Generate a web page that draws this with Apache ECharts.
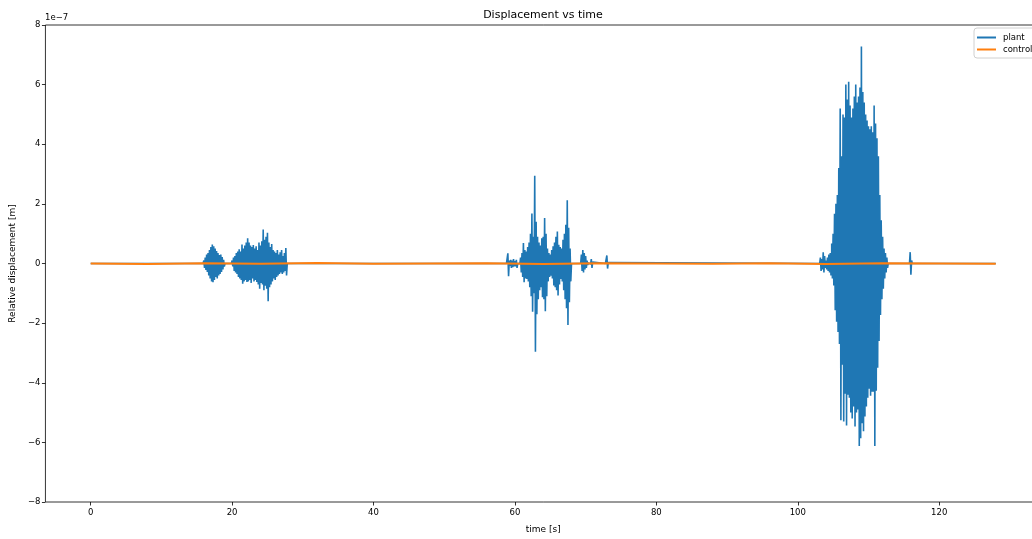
<!DOCTYPE html>
<html>
<head>
<meta charset="utf-8">
<title>Displacement vs time</title>
<script src="https://cdn.jsdelivr.net/npm/echarts@6/dist/echarts.min.js"></script>
<style>
  html, body { margin: 0; padding: 0; background: #fff; width: 1032px; height: 539px; overflow: hidden; }
  /* canvas runs a little past the window edge so the right spine falls off-screen */
  #chart { width: 1050px; height: 539px; }
</style>
</head>
<body>
<div id="chart"></div>
<script>
// Axis ticks
const xTicks = [0, 20, 40, 60, 80, 100, 120];
const yTicks = [-8, -6, -4, -2, 0, 2, 4, 6, 8];

// Recording span [s]
const recordStart = 0;
const recordEnd = 128;

// Plant displacement, in units of 1e-7 m.
// Each burst: start time [s] and samples spaced by sampleStep.
const sampleStep = 0.1;

const burstA_t0 = 16.0;
const burstA = [0.1, -0.15, 0.2, -0.22, 0.3, -0.28, 0.35, -0.4, 0.45, -0.5,
  0.55, -0.6, 0.64, -0.63, 0.58, -0.55, 0.5, -0.45, 0.42, -0.5,
  0.35, -0.4, 0.28, -0.35, 0.3, -0.28, 0.22, -0.2, 0.12, -0.1];

const burstB_t0 = 20.0;
const burstB = [0.1, -0.1, 0.2, -0.25, 0.25, -0.3, 0.35, -0.35, 0.4, -0.45,
  0.48, -0.5, 0.4, -0.55, 0.64, -0.68, 0.5, -0.6, 0.6, -0.55,
  0.7, -0.62, 0.85, -0.6, 0.7, -0.55, 0.6, -0.65, 0.55, -0.5,
  0.62, -0.6, 0.5, -0.55, 0.58, -0.62, 0.45, -0.7, 0.7, -0.85,
  0.6, -0.65, 0.75, -0.7, 1.14, -0.9, 0.8, -0.75, 0.9, -0.85,
  1.03, -1.27, 0.7, -0.8, 0.55, -0.7, 0.65, -0.6, 0.45, -0.5,
  0.4, -0.55, 0.35, -0.45, 0.45, -0.4, 0.3, -0.35, 0.38, -0.3,
  0.45, -0.35, 0.25, -0.3, 0.35, -0.25, 0.52, -0.4];

const spikeC1_t0 = 58.9;
const spikeC1 = [0.05, 0.34, -0.43, 0.1, -0.08, 0.12, -0.15, 0.1, -0.12, 0.15,
  -0.1, 0.08, -0.1, 0.12, -0.15];

const burstC_t0 = 60.8;
const burstC = [0.2, -0.3, 0.35, -0.45, 0.69, -0.63, 0.45, -0.5, 0.4, -0.52,
  0.55, -0.6, 0.7, -0.8, 1.0, -1.1, 1.68, -1.62, 0.9, -1.0,
  2.94, -2.96, 1.4, -1.7, 0.9, -1.2, 0.7, -0.9, 0.6, -0.8,
  0.85, -1.13, 0.9, -1.2, 1.53, -1.6, 1.0, -1.1, 0.5, -0.6,
  0.35, -0.45, 0.3, -0.41, 0.45, -0.5, 0.58, -0.74, 0.7, -0.8,
  0.9, -0.9, 1.07, -1.07, 0.63, -0.7, 0.55, -0.52, 0.5, -0.6,
  0.8, -0.9, 1.0, -1.2, 1.3, -1.5, 2.12, -2.06, 1.2, -1.3,
  0.5, -0.6];

const tailC_t0 = 69.4;
const tailC = [0.3, -0.25, 0.45, -0.3, 0.35, -0.2, 0.25, -0.15, 0.1, -0.05,
  0.02, -0.02, 0.02, -0.02, 0.15, -0.15, 0.05];

const spikeC2_t0 = 72.9;
const spikeC2 = [0.05, 0.27, -0.17, 0.03];

const leadD_t0 = 103.2;
const leadD = [0.2, -0.25, 0.15, -0.2, 0.38, -0.3, 0.25, -0.15, 0.1, -0.2,
  0.2, -0.25, 0.3, -0.3, 0.35, -0.4];

const burstD_t0 = 104.8;
const burstD = [0.67, -0.5, 1.0, -0.74, 1.67, -1.57, 2.0, -1.95, 2.3, -2.3,
  3.2, -2.7, 5.2, -5.26, 3.6, -3.4, 5.0, -5.3, 4.9, -4.37,
  6.0, -5.43, 5.5, -4.4, 6.1, -4.5, 5.3, -5.0, 4.9, -5.2,
  5.2, -4.8, 5.6, -5.47, 6.0, -5.0, 5.4, -4.9, 5.6, -6.12,
  5.9, -5.86, 7.28, -5.36, 5.75, -5.63, 5.4, -5.13, 5.0, -4.8,
  4.8, -4.5, 4.6, -4.2, 4.5, -4.44, 4.6, -4.3, 4.4, -4.3,
  5.3, -6.12, 4.7, -4.27, 4.2, -3.5, 3.6, -2.6, 2.3, -1.73,
  1.45, -1.2, 0.9, -0.85, 0.5, -0.5, 0.35, -0.3, 0.2, -0.15];

const spikeD_t0 = 115.9;
const spikeD = [0.38, -0.38, 0.1];

// Controller output, in units of 1e-7 m (stays close to zero)
const controlTime = [0, 8, 16, 24, 32, 40, 48, 56, 64, 72, 80, 88, 96, 104, 112, 120, 128];
const controlValue = [0.0, -0.02, 0.01, -0.01, 0.02, -0.01, 0.0, 0.01, -0.02, 0.01, 0.0, -0.01, 0.01, -0.02, 0.01, 0.0, -0.01];

// Assemble the plant trace: quiet (zero) stretches joined by the bursts
function plantTrace() {
  const bursts = [
    [burstA_t0, burstA], [burstB_t0, burstB], [spikeC1_t0, spikeC1],
    [burstC_t0, burstC], [tailC_t0, tailC], [spikeC2_t0, spikeC2],
    [leadD_t0, leadD], [burstD_t0, burstD], [spikeD_t0, spikeD]
  ];
  const pts = [[recordStart, 0]];
  bursts.forEach(([t0, vals]) => {
    pts.push([+(t0 - sampleStep).toFixed(2), 0]);
    vals.forEach((v, i) => pts.push([+(t0 + i * sampleStep).toFixed(2), v]));
    pts.push([+(t0 + vals.length * sampleStep).toFixed(2), 0]);
  });
  pts.push([recordEnd, 0]);
  return pts;
}

const controlData = controlTime.map((t, i) => [t, controlValue[i]]);

const FONT = 'DejaVu Sans';
const minus = v => (v < 0 ? '\u2212' + Math.abs(v) : String(v));

const chart = echarts.init(document.getElementById('chart'), null, { renderer: 'canvas', width: 1050, height: 539 });

chart.setOption({
  animation: false,
  backgroundColor: '#ffffff',
  textStyle: { fontFamily: FONT },
  grid: {
    left: 45, top: 25, width: 996, height: 485,
    show: true, borderColor: '#000', borderWidth: 0.8,
    containLabel: false
  },
  graphic: [
    {
      type: 'text', x: 543, y: 15,
      style: { text: 'Displacement vs time', font: '11px "DejaVu Sans"', fill: '#000',
        align: 'center', verticalAlign: 'middle', textAlign: 'center', textVerticalAlign: 'middle' }
    },
    {
      type: 'text', x: 45, y: 18,
      style: { text: '1e\u22127', font: '8.5px "DejaVu Sans"', fill: '#000',
        verticalAlign: 'middle', textVerticalAlign: 'middle' }
    }
  ],
  legend: {
    orient: 'vertical',
    left: 974, top: 28,
    icon: 'rect',
    itemWidth: 19, itemHeight: 2,
    itemGap: 3,
    padding: [5, 12, 4, 3],
    borderColor: '#d0d0d0', borderWidth: 1, borderRadius: 3,
    backgroundColor: 'rgba(255,255,255,0.8)',
    textStyle: { fontFamily: FONT, fontSize: 8.5, color: '#000', padding: [0, 0, 0, 2] },
    data: ['plant', 'control']
  },
  xAxis: {
    type: 'value',
    min: -6.4, max: 134.4,
    name: 'time [s]',
    nameLocation: 'middle',
    nameGap: 23,
    nameTextStyle: { fontFamily: FONT, fontSize: 9, color: '#000' },
    axisLine: { show: false, onZero: false },
    axisTick: { show: true, length: 3.5, inside: false, customValues: xTicks, lineStyle: { color: '#000', width: 0.8 } },
    axisLabel: { customValues: xTicks, fontFamily: FONT, fontSize: 8.5, color: '#000', margin: 6, formatter: minus },
    splitLine: { show: false }
  },
  yAxis: {
    type: 'value',
    min: -8, max: 8, interval: 2,
    name: 'Relative displacement [m]',
    nameLocation: 'middle',
    nameGap: 24,
    nameRotate: 90,
    nameTextStyle: { fontFamily: FONT, fontSize: 9, color: '#000' },
    axisLine: { show: false, onZero: false },
    axisTick: { show: true, length: 3.5, lineStyle: { color: '#000', width: 0.8 } },
    axisLabel: { fontFamily: FONT, fontSize: 8.5, color: '#000', margin: 5, formatter: minus, showMinLabel: true, showMaxLabel: true },
    splitLine: { show: false }
  },
  series: [
    {
      name: 'plant', type: 'line', data: plantTrace(),
      showSymbol: false, symbol: 'none', sampling: null,
      color: '#1f77b4',
      lineStyle: { color: '#1f77b4', width: 1.6 },
      z: 2
    },
    {
      name: 'control', type: 'line', data: controlData,
      showSymbol: false, symbol: 'none',
      color: '#ff7f0e',
      lineStyle: { color: '#ff7f0e', width: 2 },
      z: 3
    }
  ]
});
</script>
</body>
</html>
